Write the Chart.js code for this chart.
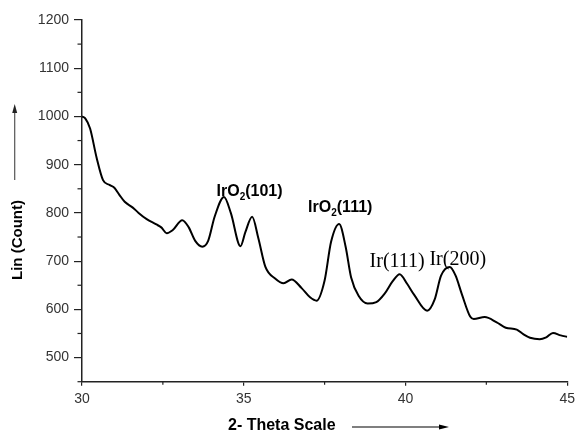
<!DOCTYPE html>
<html>
<head>
<meta charset="utf-8">
<script src="https://cdn.jsdelivr.net/npm/chart.js@4/dist/chart.umd.min.js"></script>
<style>
  body { margin: 0; background: #fff; }
  canvas { display: block; }
</style>
</head>
<body>
<canvas id="xrd" width="580" height="434"></canvas>
<script>
// 2-theta (deg) and intensity
const theta = [30.0, 30.1, 30.25, 30.45, 30.65, 30.85, 31.0, 31.15, 31.32, 31.57, 31.75, 32.0, 32.3, 32.45, 32.62, 32.8,
    33.1, 33.3, 33.5, 33.72, 33.9, 34.1, 34.39, 34.6, 34.9, 35.05, 35.26, 35.45, 35.67, 35.97, 36.23, 36.48,
    36.79, 37.05, 37.25, 37.5, 37.7, 37.95, 38.15, 38.32, 38.55, 38.83, 39.1, 39.35, 39.6, 39.82, 40.05, 40.27,
    40.67, 40.9, 41.1, 41.37, 41.55, 41.75, 42.0, 42.11, 42.45, 42.82, 43.1, 43.44, 43.65, 43.85, 44.15, 44.35,
    44.56, 44.8, 45.0];
const counts = [1000, 996, 975, 915, 868, 858, 852, 838, 823, 811, 800, 787, 776, 770, 758, 764,
    785, 770, 742, 730, 742, 792, 833, 800, 731, 760, 792, 748, 688, 664, 654, 662,
    644, 625, 618, 660, 740, 777, 730, 666, 628, 612, 615, 632, 658, 673, 653, 630,
    597, 620, 670, 688, 670, 630, 585, 580, 584, 573, 562, 558, 548, 541, 538, 542,
    551, 546, 543];

const xTicks = [30, 35, 40, 45];
const xMinor = [32.5, 37.5, 42.5];
const yTicks = [500, 600, 700, 800, 900, 1000, 1100, 1200];
const yMinor = [450, 550, 650, 750, 850, 950, 1050, 1150];

// peak labels, anchored in data units
const peakNames = ["IrO2(101)", "IrO2(111)", "Ir(111)", "Ir(200)"];
const peakX = [34.16, 36.99, 38.89, 40.74];
const peakY = [836, 802, 687, 693];

const decor = {
    id: "decor",
    afterDraw(chart) {
        const { ctx, scales: { x, y } } = chart;
        ctx.save();
        ctx.strokeStyle = "#222";
        ctx.lineWidth = 1.2;
        yMinor.forEach(v => {
            const py = y.getPixelForValue(v);
            ctx.beginPath(); ctx.moveTo(x.left - 4.5, py); ctx.lineTo(x.left, py); ctx.stroke();
        });
        xMinor.forEach(v => {
            const px = x.getPixelForValue(v);
            ctx.beginPath(); ctx.moveTo(px, y.bottom); ctx.lineTo(px, y.bottom + 3); ctx.stroke();
        });

        // peak labels
        ctx.fillStyle = "#000";
        ctx.textBaseline = "alphabetic";
        ctx.textAlign = "left";
        peakNames.forEach((name, i) => {
            let px = x.getPixelForValue(peakX[i]);
            const py = y.getPixelForValue(peakY[i]);
            if (name.startsWith("IrO2")) {
                ctx.font = "bold 16px 'Liberation Sans', Arial, sans-serif";
                ctx.fillText("IrO", px, py);
                px += ctx.measureText("IrO").width;
                ctx.font = "bold 10px 'Liberation Sans', Arial, sans-serif";
                ctx.fillText("2", px, py + 4);
                px += ctx.measureText("2").width;
                ctx.font = "bold 16px 'Liberation Sans', Arial, sans-serif";
                ctx.fillText(name.slice(4), px, py);
            } else {
                ctx.font = "20px 'Liberation Serif', 'Times New Roman', serif";
                ctx.fillText(name, px, py);
            }
        });

        // axis titles with arrows
        ctx.font = "bold 15px 'Liberation Sans', Arial, sans-serif";
        ctx.save();
        ctx.translate(22, 240);
        ctx.rotate(-Math.PI / 2);
        ctx.textAlign = "center";
        ctx.fillText("Lin (Count)", 0, 0);
        ctx.restore();

        ctx.strokeStyle = "#555";
        ctx.fillStyle = "#222";
        ctx.lineWidth = 1.2;
        ctx.beginPath(); ctx.moveTo(14.7, 180); ctx.lineTo(14.7, 110); ctx.stroke();
        ctx.beginPath(); ctx.moveTo(14.7, 104); ctx.lineTo(12.2, 113); ctx.lineTo(17.2, 113); ctx.closePath(); ctx.fill();

        ctx.font = "bold 16px 'Liberation Sans', Arial, sans-serif";
        ctx.fillStyle = "#000";
        ctx.textAlign = "left";
        ctx.fillText("2- Theta Scale", 228, 430);
        ctx.strokeStyle = "#000";
        ctx.beginPath(); ctx.moveTo(352, 427); ctx.lineTo(442, 427); ctx.stroke();
        ctx.beginPath(); ctx.moveTo(449, 427); ctx.lineTo(439, 424.5); ctx.lineTo(439, 429.5); ctx.closePath(); ctx.fill();
        ctx.restore();
    }
};

const tickFont = { size: 14, family: "'Liberation Sans', Arial, sans-serif" };

new Chart(document.getElementById("xrd"), {
    type: "line",
    data: {
        datasets: [{
            data: theta.map((t, i) => ({ x: t, y: counts[i] })),
            borderColor: "#000",
            borderWidth: 2,
            pointRadius: 0,
            fill: false,
            cubicInterpolationMode: "monotone",
        }, ],
    },
    options: {
        responsive: false,
        animation: false,
        layout: { padding: { top: 20, right: 8, left: 0, bottom: 0 } },
        plugins: { legend: { display: false }, tooltip: { enabled: false } },
        scales: {
            x: {
                type: "linear",
                min: 30,
                max: 45,
                afterBuildTicks: s => { s.ticks = xTicks.map(v => ({ value: v })); },
                afterFit: s => { s.height = 52.3; },
                border: { color: "#222", width: 1.5 },
                grid: { drawOnChartArea: false, tickLength: 4, color: "#222", lineWidth: 1.2 },
                ticks: { padding: 5, color: "#333", font: tickFont, maxRotation: 0, callback: v => String(v) },
            },
            y: {
                min: 450,
                max: 1200,
                afterBuildTicks: s => { s.ticks = yTicks.map(v => ({ value: v })); },
                afterFit: s => { s.width = 82; },
                border: { color: "#222", width: 1.5 },
                grid: { drawOnChartArea: false, tickLength: 8, color: "#222", lineWidth: 1.2 },
                ticks: { padding: 5, color: "#333", font: tickFont, callback: v => String(v) },
            },
        },
    },
    plugins: [decor],
});
</script>
</body>
</html>
